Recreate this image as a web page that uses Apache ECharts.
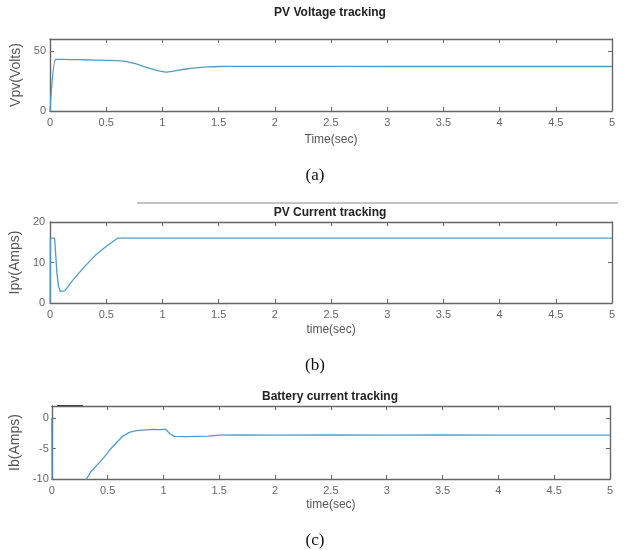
<!DOCTYPE html>
<html>
<head>
<meta charset="utf-8">
<script src="https://cdn.jsdelivr.net/npm/echarts@6/dist/echarts.min.js"></script>
<style>html,body{margin:0;padding:0;background:#fff;}#c{width:629px;height:550px;}</style>
</head>
<body>
<div id="c"></div>
<script>
// ---- data ----
const xTickLabels = ['0','0.5','1','1.5','2','2.5','3','3.5','4','4.5','5'];
const voltageT = [0, 0.05, 0.1, 0.3, 0.5, 0.65, 0.75, 0.85, 0.95, 1.03, 1.1, 1.2, 1.3, 1.4, 1.5, 1.7, 2, 3, 4, 5];
const voltageV = [0, 43, 43.1, 42.7, 42.2, 41.6, 39.6, 36.6, 33.8, 32.4, 33.2, 34.8, 36, 36.7, 37.1, 37.2, 37.2, 37.1, 37.1, 37.1];
const currentT = [0, 0.002, 0.04, 0.06, 0.075, 0.09, 0.1, 0.13, 0.2, 0.3, 0.4, 0.5, 0.6, 5];
const currentV = [0, 16, 16, 7.5, 4, 2.9, 2.7, 3, 5.6, 8.8, 11.7, 14, 16, 16];
const batteryT = [0, 0.005, 0.1, 0.2, 0.31, 0.35, 0.4, 0.46, 0.52, 0.58, 0.64, 0.7, 0.76, 0.82, 0.9, 0.98, 1.02, 1.06, 1.1, 1.2, 1.3, 1.4, 1.5, 1.7, 2, 2.5, 3, 3.5, 4, 4.5, 5];
const batteryV = [0, -25, -20, -15, -10, -8.8, -7.8, -6.6, -5.2, -4, -2.9, -2.3, -2.05, -1.95, -1.85, -1.9, -1.8, -2.6, -3.0, -3.05, -3.0, -2.95, -2.8, -2.75, -2.8, -2.75, -2.8, -2.75, -2.8, -2.8, -2.8];
const titles = ['PV Voltage tracking', 'PV Current tracking', 'Battery current tracking'];
const yNames = ['Vpv(Volts)', 'Ipv(Amps)', 'Ib(Amps)'];
const xNames = ['Time(sec)', 'time(sec)', 'time(sec)'];
const captions = ['(a)', '(b)', '(c)'];

const frame = {color:'#666', width:1.4};
const lineColor = '#4f9cc9';
const grids = [
  {left:50, top:39, right:17, height:72},
  {left:47, top:222, right:17, height:81},
  {left:48, top:406, right:19, height:73}
];
const yCfg = [
  {min:0, max:60, interval:50, margin:4, hideMax:true},
  {min:0, max:20, interval:10, margin:5, hideMax:false},
  {min:-10, max:2, interval:5, margin:3, hideMax:true}
];
const xNameGap = [23, 21, 20];
const yNameGap = [20, 19, 19];

const xAxis = [], yAxis = [], series = [];
const datasets = [[voltageT, voltageV], [currentT, currentV], [batteryT, batteryV]];
grids.forEach((g, i) => {
  const tick = {inside:true, length:4, lineStyle:{color:'#666', width:1}};
  xAxis.push({gridIndex:i, type:'value', min:0, max:5, interval:0.5, position:'bottom',
    axisLine:{show:true, onZero:false, lineStyle:frame}, axisTick:tick,
    axisLabel:{margin:6, color:'#666', fontSize:11, fontFamily:'Liberation Sans, Arial',
      formatter:(v) => xTickLabels[Math.round(v*2)] || ''},
    splitLine:{show:false},
    name:xNames[i], nameLocation:'middle', nameGap:xNameGap[i],
    nameTextStyle:{color:'#555', fontSize:12, fontFamily:'Liberation Sans, Arial'}});
  xAxis.push({gridIndex:i, type:'value', min:0, max:5, interval:0.5, position:'top',
    axisLine:{show:true, onZero:false, lineStyle:frame}, axisTick:tick,
    axisLabel:{show:false}, splitLine:{show:false}});
  const yc = yCfg[i];
  yAxis.push({gridIndex:i, type:'value', min:yc.min, max:yc.max, interval:yc.interval, position:'left',
    axisLine:{show:true, onZero:false, lineStyle:frame}, axisTick:tick,
    axisLabel:{margin:yc.margin, color:'#666', fontSize:11, fontFamily:'Liberation Sans, Arial', showMaxLabel:!yc.hideMax,
      formatter:(v) => ((yc.hideMax && v === yc.max) ? '' : String(v))},
    splitLine:{show:false},
    name:yNames[i], nameLocation:'middle', nameGap:yNameGap[i], nameRotate:90,
    nameTextStyle:{color:'#555', fontSize:14, fontFamily:'Liberation Sans, Arial'}});
  yAxis.push({gridIndex:i, type:'value', min:yc.min, max:yc.max, interval:yc.interval, position:'right',
    axisLine:{show:true, onZero:false, lineStyle:frame}, axisTick:tick,
    axisLabel:{show:false}, splitLine:{show:false}});
  const [T, V] = datasets[i];
  series.push({type:'line', xAxisIndex:2*i, yAxisIndex:2*i, data:T.map((t, k) => [t, V[k]]),
    showSymbol:false, symbol:'none', clip:true, smooth: i === 0 ? 0.25 : false,
    lineStyle:{color:lineColor, width:1.3}, silent:true});
});

const titleY = [13, 213, 397];
const captionY = [176, 366, 541];
const graphic = [];
titles.forEach((t, i) => {
  graphic.push({type:'text', style:{text:t, x:330, y:titleY[i], textAlign:'center', align:'center',
    textVerticalAlign:'middle', verticalAlign:'middle', fill:'#222', font:'bold 12px "Liberation Sans", Arial'}});
  graphic.push({type:'text', style:{text:captions[i], x:315, y:captionY[i], textAlign:'center', align:'center',
    textVerticalAlign:'middle', verticalAlign:'middle', fill:'#111', font:'17px "Liberation Serif", "Times New Roman", serif'}});
});
graphic.push({type:'line', shape:{x1:137, y1:203, x2:618, y2:203}, style:{stroke:'#888', lineWidth:1}});
graphic.push({type:'line', shape:{x1:57, y1:406, x2:83, y2:406}, style:{stroke:'#333', lineWidth:2}});

const chart = echarts.init(document.getElementById('c'), null, {renderer:'canvas'});
chart.setOption({animation:false, backgroundColor:'#fff', grid:grids, xAxis, yAxis, series, graphic});
</script>
</body>
</html>
